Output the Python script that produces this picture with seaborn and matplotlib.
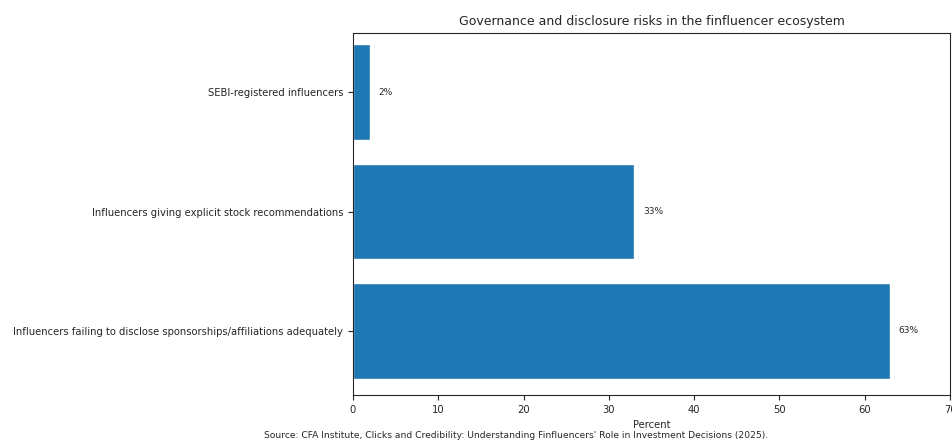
import pandas as pd
import seaborn as sns
import matplotlib.pyplot as plt

categories = [
    "SEBI-registered influencers",
    "Influencers giving explicit stock recommendations",
    "Influencers failing to disclose sponsorships/affiliations adequately",
]
percent = [2, 33, 63]
source = ("Source: CFA Institute, Clicks and Credibility: Understanding "
          "Finfluencers' Role in Investment Decisions (2025).")

df = pd.DataFrame({"category": categories, "percent": percent})

sns.set_style("ticks")
plt.rcParams["font.family"] = ["DejaVu Sans"]

fig = plt.figure(figsize=(9.53, 4.48), dpi=100)
ax = fig.add_axes([0.3704, 0.1183, 0.6265, 0.808])

sns.barplot(data=df, x="percent", y="category", color="#1f77b4",
            saturation=1, width=0.8, ax=ax)

for i, v in enumerate(df["percent"]):
    ax.text(v + 1, i, f"{v}%", va="center", ha="left", fontsize=6.5)

ax.set_xlim(0, 70)
ax.set_ylim(2.536, -0.494)
ax.set_xlabel("Percent", fontsize=7.2)
ax.set_ylabel("")
ax.set_title("Governance and disclosure risks in the finfluencer ecosystem",
             fontsize=9.0, pad=6)
ax.tick_params(labelsize=7.2)
for s in ax.spines.values():
    s.set_visible(True)
    s.set_linewidth(0.8)

fig.text(0.541, 0.018, source, ha="center", va="bottom", fontsize=6.6)

fig.savefig("out.png", dpi=100)
